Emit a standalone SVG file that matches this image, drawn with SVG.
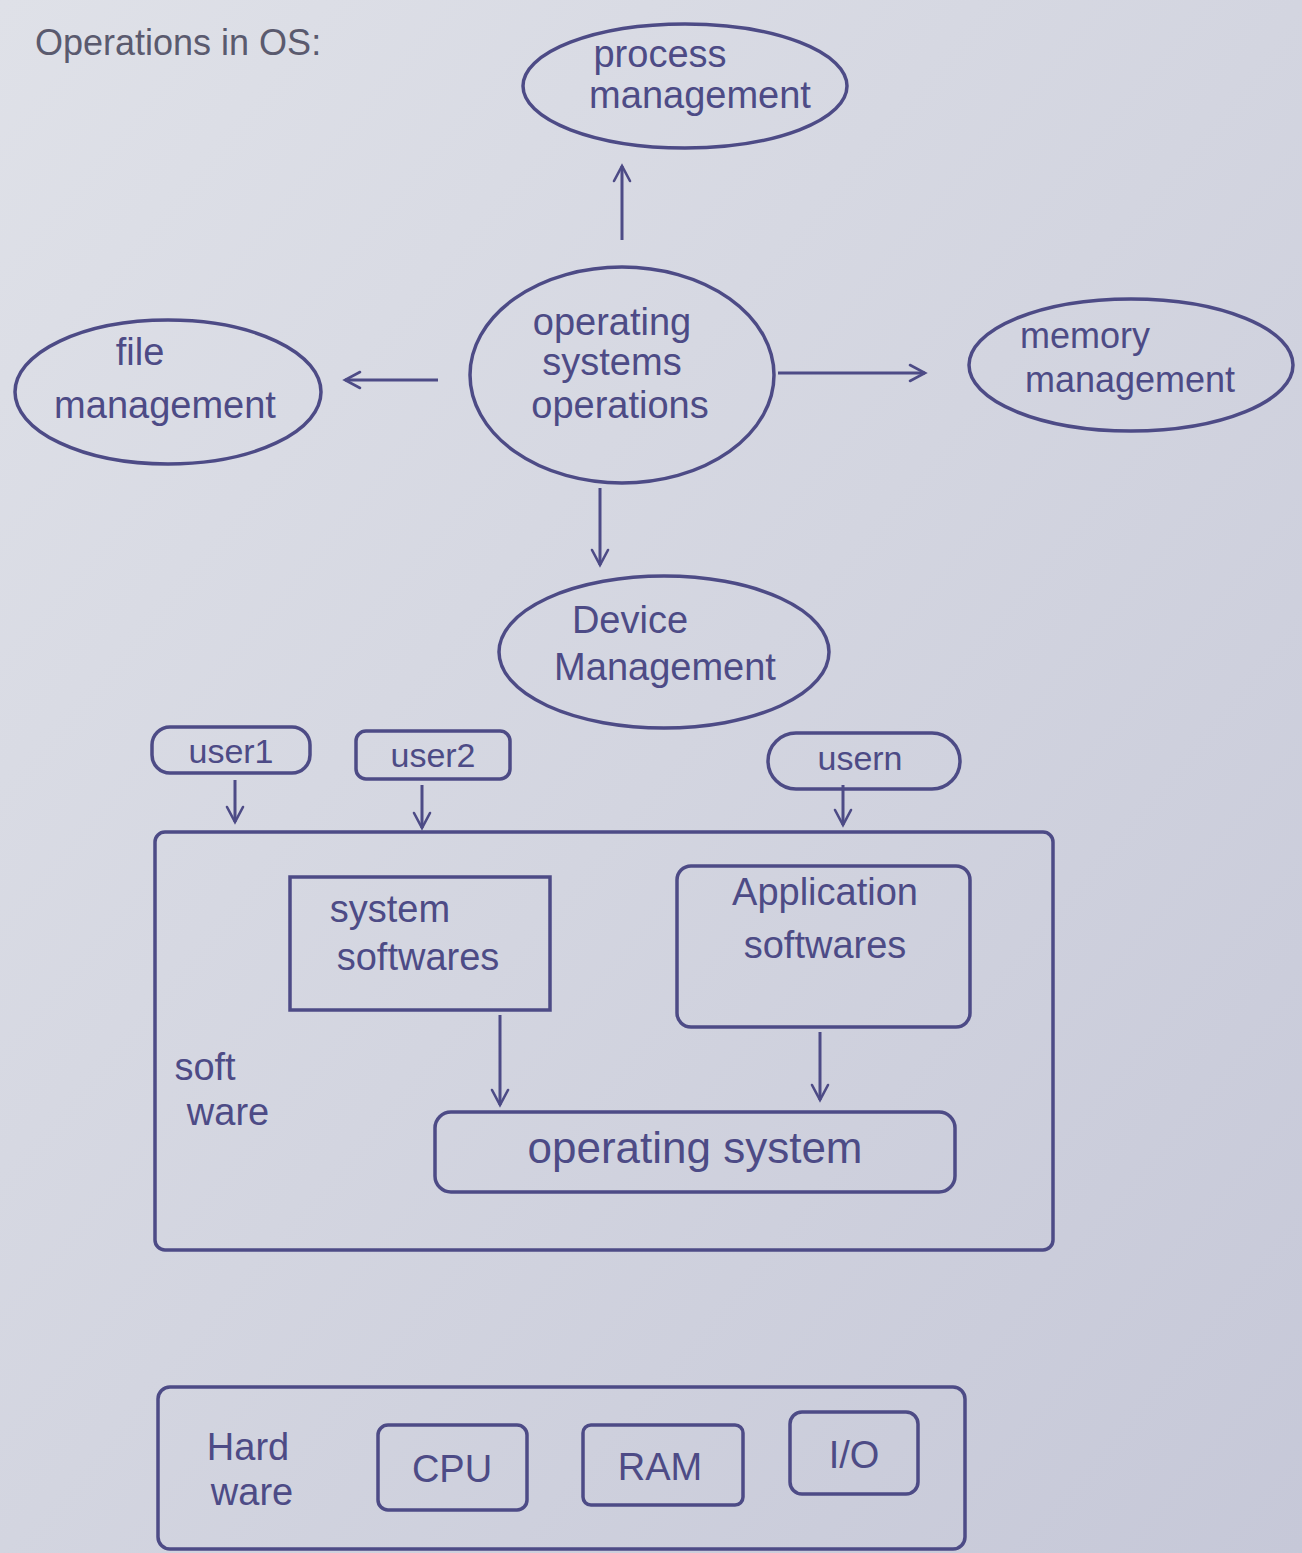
<svg xmlns="http://www.w3.org/2000/svg" width="1302" height="1553" viewBox="0 0 1302 1553">
<defs>
<linearGradient id="bg" x1="0" y1="0" x2="1" y2="1">
<stop offset="0" stop-color="#dfe1e8"/>
<stop offset="0.5" stop-color="#d3d5e0"/>
<stop offset="1" stop-color="#c6c8d8"/>
</linearGradient>
<marker id="ah" viewBox="0 0 20 20" refX="17" refY="10" markerWidth="20" markerHeight="20" markerUnits="userSpaceOnUse" orient="auto">
<path d="M2,2 L17,10 L2,18" fill="none" stroke="#4d4b86" stroke-width="2.6" stroke-linecap="round"/>
</marker>
</defs>
<style>
.s{fill:none;stroke:#4d4b86;stroke-width:3.5;}
.t{font-family:"Liberation Sans","DejaVu Sans",sans-serif;fill:#4d4b86;font-size:38px;text-anchor:middle;}
.c{stroke:#4d4b86;stroke-width:3;fill:none;marker-end:url(#ah);}
</style>
<rect width="1302" height="1553" fill="url(#bg)"/>
<text x="35" y="55" class="t" style="text-anchor:start;font-size:36px;fill:#5a5a6e">Operations in OS:</text>

<g id="process"><ellipse cx="685" cy="86" rx="162" ry="62" class="s"/><text x="660" y="67" class="t">process</text><text x="700" y="108" class="t">management</text></g>
<g id="osops"><ellipse cx="622" cy="375" rx="152" ry="108" class="s"/><text x="612" y="335" class="t">operating</text><text x="612" y="375" class="t">systems</text><text x="620" y="418" class="t">operations</text></g>
<g id="file"><ellipse cx="168" cy="392" rx="153" ry="72" class="s"/><text x="140" y="365" class="t">file</text><text x="165" y="418" class="t">management</text></g>
<g id="memory"><ellipse cx="1131" cy="365" rx="162" ry="66" class="s"/><text x="1085" y="348" class="t" style="font-size:36px">memory</text><text x="1130" y="392" class="t" style="font-size:36px">management</text></g>
<g id="device"><ellipse cx="664" cy="652" rx="165" ry="76" class="s"/><text x="630" y="633" class="t">Device</text><text x="665" y="680" class="t">Management</text></g>
<g id="user1"><rect x="152" y="727" width="158" height="46" rx="18" class="s"/><text x="231" y="763" class="t" style="font-size:34px">user1</text></g>
<g id="user2"><rect x="356" y="731" width="154" height="48" rx="10" class="s"/><text x="433" y="767" class="t" style="font-size:34px">user2</text></g>
<g id="usern"><rect x="768" y="733" width="192" height="56" rx="28" class="s"/><text x="860" y="770" class="t" style="font-size:34px">usern</text></g>
<g id="software"><rect x="155" y="832" width="898" height="418" rx="10" class="s"/><text x="205" y="1080" class="t">soft</text><text x="228" y="1125" class="t">ware</text></g>
<g id="syssw"><rect x="290" y="877" width="260" height="133" class="s"/><text x="390" y="922" class="t">system</text><text x="418" y="970" class="t">softwares</text></g>
<g id="appsw"><rect x="677" y="866" width="293" height="161" rx="14" class="s"/><text x="825" y="905" class="t">Application</text><text x="825" y="958" class="t">softwares</text></g>
<g id="os"><rect x="435" y="1112" width="520" height="80" rx="16" class="s"/><text x="695" y="1163" class="t" style="font-size:44px">operating system</text></g>
<g id="hardware"><rect x="158" y="1387" width="807" height="162" rx="12" class="s"/><text x="248" y="1460" class="t">Hard</text><text x="252" y="1505" class="t">ware</text></g>
<g id="cpu"><rect x="378" y="1425" width="149" height="85" rx="10" class="s"/><text x="452" y="1482" class="t">CPU</text></g>
<g id="ram"><rect x="583" y="1425" width="160" height="80" rx="8" class="s"/><text x="660" y="1480" class="t">RAM</text></g>
<g id="io"><rect x="790" y="1412" width="128" height="82" rx="12" class="s"/><text x="854" y="1468" class="t">I/O</text></g>

<g id="connectors">
<line x1="622" y1="240" x2="622" y2="166" class="c"/>
<line x1="438" y1="380" x2="345" y2="380" class="c"/>
<line x1="778" y1="373" x2="925" y2="373" class="c"/>
<line x1="600" y1="488" x2="600" y2="565" class="c"/>
<line x1="235" y1="780" x2="235" y2="822" class="c"/>
<line x1="422" y1="785" x2="422" y2="828" class="c"/>
<line x1="843" y1="785" x2="843" y2="825" class="c"/>
<line x1="500" y1="1015" x2="500" y2="1105" class="c"/>
<line x1="820" y1="1032" x2="820" y2="1100" class="c"/>
</g>
</svg>
